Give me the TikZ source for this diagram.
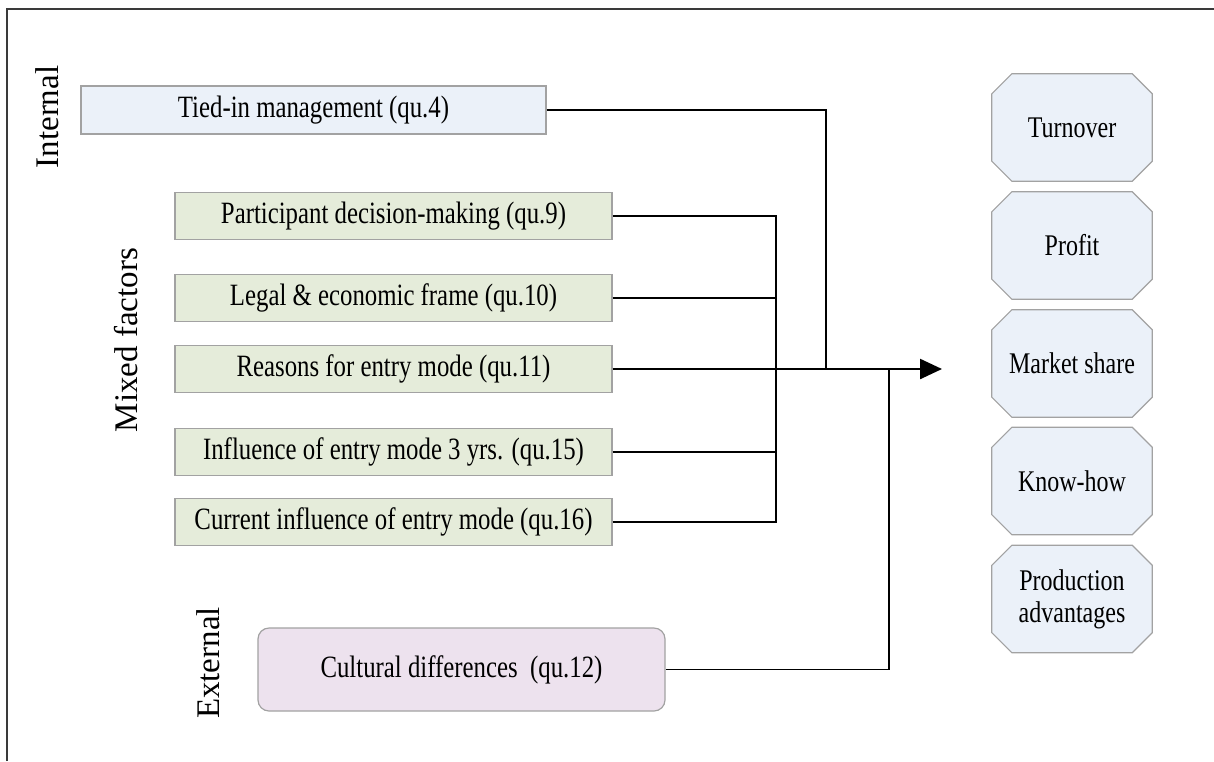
\documentclass[tikz,border=0pt]{standalone}
\usepackage{fontspec}
\setmainfont{Liberation Serif}
\newfontfamily\boxfont{Liberation Serif}[FakeStretch=0.8]
\usetikzlibrary{arrows.meta,calc}

\definecolor{framegray}{HTML}{3A3A3A}
\definecolor{edgegray}{HTML}{A2A2A2}
\definecolor{bluefill}{HTML}{EBF1F9}
\definecolor{greenfill}{HTML}{E5ECDA}
\definecolor{lilacfill}{HTML}{EDE2EE}

\tikzset{
  factor/.style={draw=edgegray, line width=1.2pt, minimum height=47pt,
    inner sep=0pt, font=\boxfont\fontsize{31}{33}\selectfont},
  internalbox/.style={factor, fill=bluefill, minimum width=465pt, minimum height=48pt},
  mixedbox/.style={factor, fill=greenfill, minimum width=437pt},
  externalbox/.style={factor, fill=lilacfill, rounded corners=11pt,
    minimum width=407pt, minimum height=83pt},
  outcome/.style={draw=none, minimum width=160pt, minimum height=107pt,
    inner sep=0pt, align=center, font=\boxfont\fontsize{30}{32}\selectfont},
  octo/.style={draw=edgegray, line width=1.2pt, fill=bluefill},
  grouplabel/.style={rotate=90, font=\fontsize{33}{35}\selectfont},
  link/.style={draw=black, line width=1.4pt},
  mainlink/.style={draw=black, line width=2.4pt}
}

% chamfered outline drawn behind an outcome node
\newcommand{\octoframe}[1]{%
  \path[octo] ($(#1.north west)+(20pt,0)$) -- ($(#1.north east)+(-20pt,0)$)
    -- ($(#1.north east)+(0,-20pt)$) -- ($(#1.south east)+(0,20pt)$)
    -- ($(#1.south east)+(-20pt,0)$) -- ($(#1.south west)+(20pt,0)$)
    -- ($(#1.south west)+(0,20pt)$) -- ($(#1.north west)+(0,-20pt)$) -- cycle;}

\begin{document}
\begin{tikzpicture}[x=1pt, y=-1pt]
\useasboundingbox (0,0) rectangle (1214,761);

% outer frame (left and top edges)
\draw[framegray, line width=2pt] (7,761) -- (7,9) -- (1214,9);

% group labels
\node[grouplabel] (lint) at (47,117) {Internal};
\node[grouplabel] (lmix) at (126,340) {Mixed factors};
\node[grouplabel] (lext) at (208,663) {External};

% factor boxes
\node[internalbox] (tied) at (313.5,110) {Tied-in management (qu.4)};
\node[mixedbox] (part)   at (393.5,216) {Participant decision-making (qu.9)};
\node[mixedbox] (legal)  at (393.5,298) {Legal \& economic frame (qu.10)};
\node[mixedbox] (reason) at (393.5,369) {Reasons for entry mode (qu.11)};
\node[mixedbox] (infl)   at (393.5,452) {Influence of entry mode 3 yrs. (qu.15)};
\node[mixedbox] (curr)   at (393.5,522) {Current influence of entry mode (qu.16)};
\node[externalbox] (cult) at (461.5,669.5) {Cultural differences~~(qu.12)};

% outcome octagons
\foreach \n/\y/\t in {turn/127.5/Turnover, prof/245.5/Profit,
    mark/363.5/Market share, know/481/Know-how,
    prod/599/{Production\\advantages}} {
  \node[outcome] (\n) at (1072,\y) {};
  \octoframe{\n}
  \node[outcome] at (\n.center) {\t};
}

% junction points
\coordinate (bus) at (776,369);
\coordinate (tiedj) at (826,369);
\coordinate (cultj) at (889,369);
\coordinate (tip) at (942,369);

% mixed factors gathered on a vertical bus
\draw[link] (part.east) -| (bus);
\draw[link] (legal.east) -| (bus);
\draw[link] (infl.east) -| (bus);
\draw[link] (curr.east) -| (bus);
\draw[link] (reason.east) -- (bus);

% internal and external factors joining the main line
\draw[link] (tied.east) -| (tiedj);
\draw[link] (cult.east) -| (cultj);

% main arrow toward the outcomes
\draw[mainlink, -{Triangle[length=22pt,width=20pt]}] (bus) -- (tip);
\end{tikzpicture}
\end{document}
